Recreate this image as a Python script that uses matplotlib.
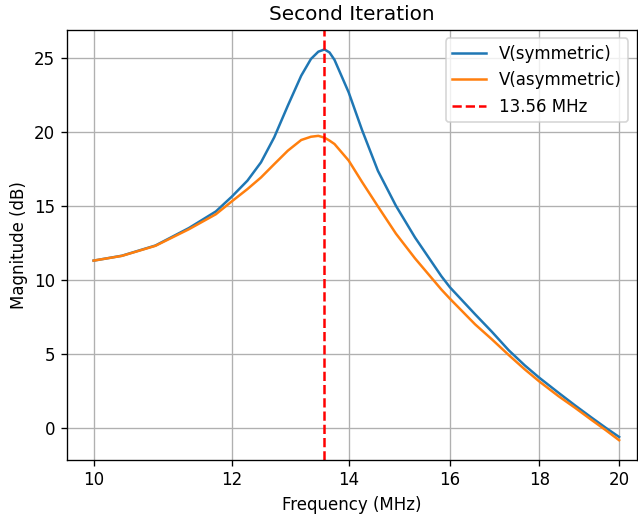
import numpy as np
import matplotlib
matplotlib.use("Agg")
import matplotlib.pyplot as plt
from matplotlib.ticker import ScalarFormatter, NullLocator

# frequency points (MHz) and magnitudes (dB)
freq = [10.0, 10.38, 10.85, 11.34, 11.75, 12.0, 12.25, 12.47, 12.69, 12.92, 13.15,
        13.32, 13.45, 13.56, 13.65, 13.74, 14.0, 14.25, 14.55, 14.9, 15.28, 15.82,
        16.0, 16.54, 16.91, 17.29, 17.66, 18.0, 18.46, 18.87, 19.29, 19.65, 20.0]
v_sym = [11.3, 11.63, 12.32, 13.5, 14.62, 15.62, 16.7, 17.93, 19.62, 21.76, 23.78,
         24.91, 25.4, 25.55, 25.35, 24.85, 22.65, 20.1, 17.36, 15.0, 12.86, 10.25,
         9.5, 7.68, 6.5, 5.25, 4.23, 3.4, 2.39, 1.53, 0.7, 0.02, -0.6]
v_asym = [11.3, 11.62, 12.3, 13.42, 14.43, 15.3, 16.13, 16.91, 17.81, 18.72, 19.44,
          19.66, 19.72, 19.6, 19.4, 19.17, 18.05, 16.6, 14.96, 13.12, 11.45, 9.35,
          8.73, 7.0, 5.99, 4.93, 3.96, 3.15, 2.16, 1.37, 0.54, -0.14, -0.82]
f_marker = 13.56
xticks = [10, 12, 14, 16, 18, 20]

fig, ax = plt.subplots(figsize=(638 / 120, 516 / 120), dpi=120)
fig.subplots_adjust(left=0.105, right=0.998, top=0.942, bottom=0.109)

ax.plot(freq, v_sym, label='V(symmetric)')
ax.plot(freq, v_asym, label='V(asymmetric)')
ax.axvline(f_marker, color='red', linestyle='--', label='13.56 MHz')

ax.set_xscale('log')
ax.set_xlim(9.655, 20.47)
ax.set_xticks(xticks)
ax.xaxis.set_major_formatter(ScalarFormatter())
ax.xaxis.set_minor_locator(NullLocator())

ax.set_xlabel('Frequency (MHz)')
ax.set_ylabel('Magnitude (dB)')
ax.set_title('Second Iteration')
ax.grid(True)
ax.legend(loc='upper right')

plt.savefig('out.png')
